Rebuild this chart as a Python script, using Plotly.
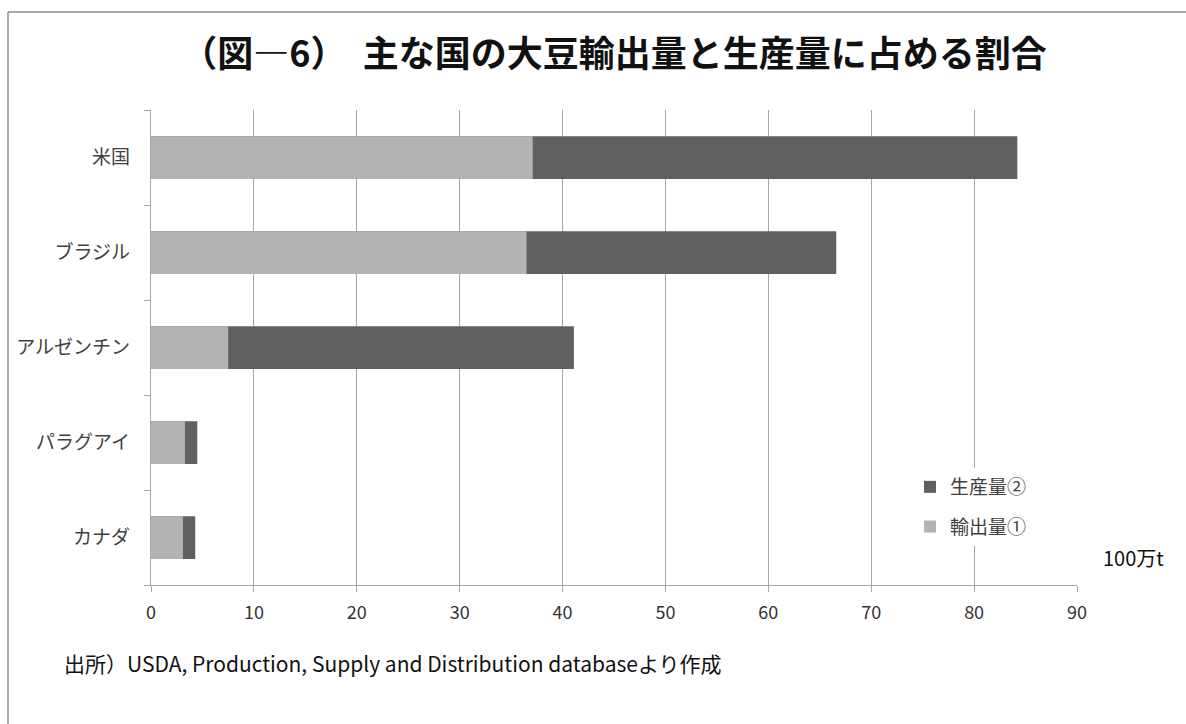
import plotly.graph_objects as go

# Soybean production and exports by major country (million t)
countries = ["米国", "ブラジル", "アルゼンチン", "パラグアイ", "カナダ"]
production = [84.2, 66.6, 41.1, 4.5, 4.3]
exports = [37.1, 36.5, 7.5, 3.3, 3.1]
x_ticks = [0, 10, 20, 30, 40, 50, 60, 70, 80, 90]

W, H = 1186, 724
L, R, T, B = 151, 109, 110, 139
PW, PH = W - L - R, H - T - B


def px(x):
    return (x - L) / PW


def py(y):
    return (H - B - y) / PH


JP = "Noto Sans CJK JP"

fig = go.Figure()
fig.add_trace(go.Bar(
    y=countries, x=production, orientation="h", name="生産量②",
    legendgroup="prod",
    marker=dict(color="#606060", line=dict(width=0)),
))
fig.add_trace(go.Bar(
    y=countries, x=exports, orientation="h", name="輸出量①",
    legendgroup="exp",
    marker=dict(color="#b3b3b3", line=dict(width=0)),
))

fig.update_layout(
    width=W, height=H,
    margin=dict(l=L, r=R, t=T, b=B),
    paper_bgcolor="white", plot_bgcolor="white",
    barmode="overlay", bargap=0.55,
    showlegend=True,
    legend=dict(
        x=px(910), y=py(468), xanchor="left", yanchor="top",
        bgcolor="white", traceorder="grouped",
        font=dict(family=JP, size=19, color="#404040"),
        itemwidth=30, itemsizing="constant",
        tracegroupgap=12,
    ),
    title=dict(
        text="（図―6）  主な国の大豆輸出量と生産量に占める割合",
        x=0.5, xref="paper", xanchor="center",
        y=1 - 54 / H, yanchor="middle",
        font=dict(family=JP, size=36, color="#111111", weight="bold"),
    ),
    xaxis=dict(
        range=[0, 90], tickvals=x_ticks,
        showgrid=True, gridcolor="#a6a6a6", gridwidth=1.3,
        showline=True, linecolor="#a6a6a6", linewidth=1.3,
        ticks="outside", ticklen=6, tickcolor="#a6a6a6",
        tickfont=dict(family=JP, size=18, color="#333333"),
        ticklabelstandoff=5,
        zeroline=False, fixedrange=True,
    ),
    yaxis=dict(
        categoryorder="array", categoryarray=countries[::-1],
        showline=True, linecolor="#a6a6a6", linewidth=1.3,
        ticks="outside", ticklen=6, tickcolor="#a6a6a6",
        tickson="boundaries", showgrid=False,
        tickfont=dict(family=JP, size=19, color="#404040"),
        ticklabelstandoff=16,
    ),
    font=dict(family=JP),
)

# Unit label and source note
fig.add_annotation(
    text="100万t", xref="paper", yref="paper",
    x=px(1101), y=py(557), xanchor="left", yanchor="middle",
    showarrow=False, font=dict(family=JP, size=20, color="#111111"),
)
fig.add_annotation(
    text="出所）USDA, Production, Supply and Distribution databaseより作成",
    xref="paper", yref="paper",
    x=px(62), y=py(663), xanchor="left", yanchor="middle",
    showarrow=False, font=dict(family=JP, size=21, color="#111111"),
)

# Outer chart frame (top and left edges)
fig.add_shape(type="line", xref="paper", yref="paper",
              x0=px(8), x1=px(W + 5), y0=py(12), y1=py(12),
              line=dict(color="#8c8c8c", width=1.5))
fig.add_shape(type="line", xref="paper", yref="paper",
              x0=px(8), x1=px(8), y0=py(12), y1=py(H + 5),
              line=dict(color="#8c8c8c", width=1.5))

fig.write_html("out.html")
